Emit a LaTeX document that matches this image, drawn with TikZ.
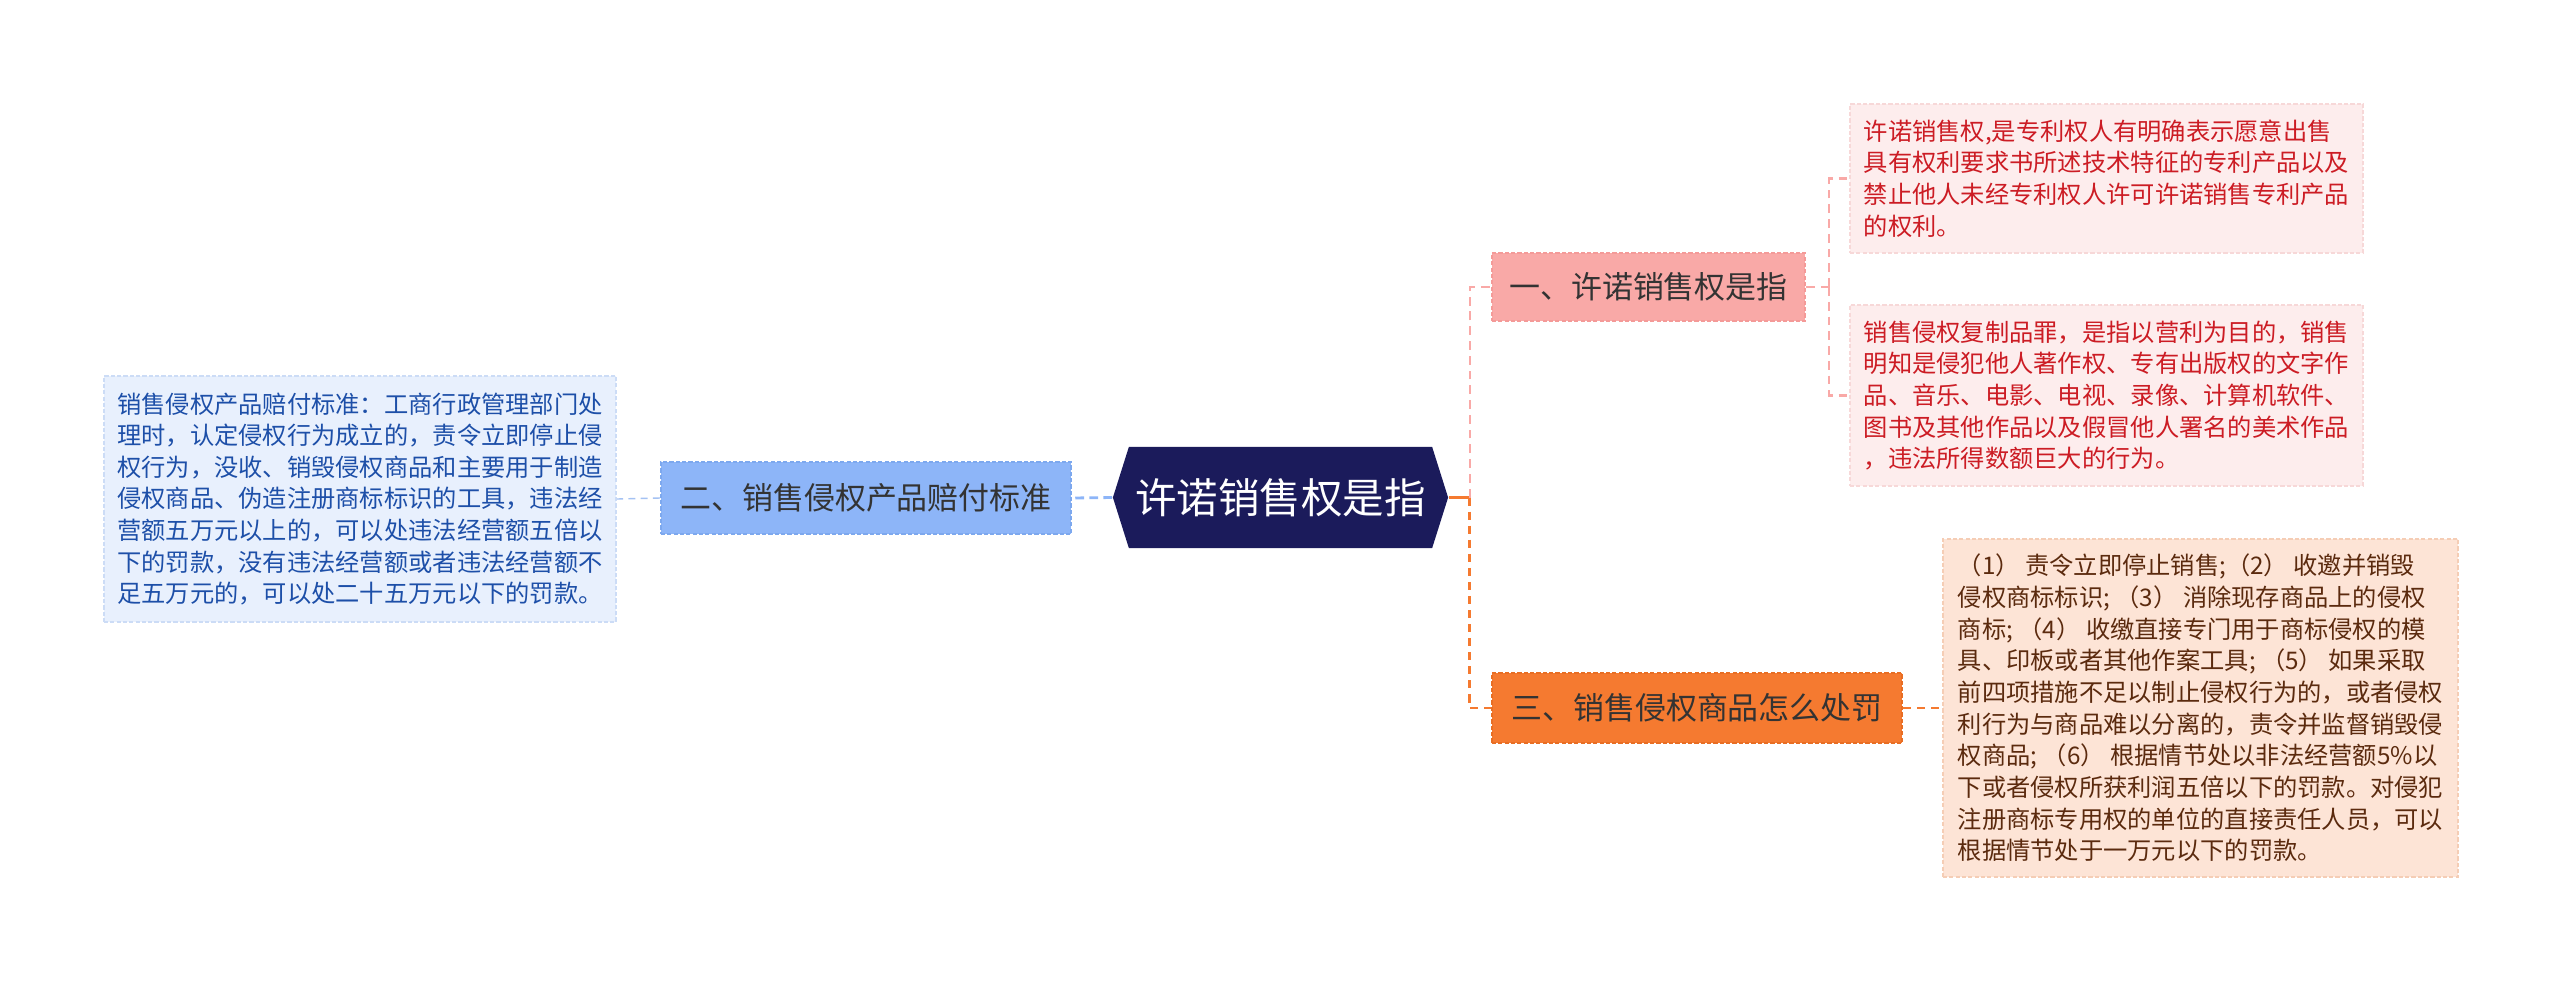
\documentclass[tikz,border=0pt]{standalone}
\usepackage{fontspec}
\setmainfont{Noto Sans CJK SC}
\usepackage{xcolor}
\usetikzlibrary{positioning, shapes.symbols}
\definecolor{rootNavy}{HTML}{1B1B5B}
\definecolor{topicInk}{HTML}{333333}
\definecolor{pinkFill}{HTML}{F9A9A7}\definecolor{pinkEdge}{HTML}{F49A98}
\definecolor{blueFill}{HTML}{8DB5F8}\definecolor{blueEdge}{HTML}{7DA8EE}
\definecolor{orangeFill}{HTML}{F57A30}\definecolor{orangeEdge}{HTML}{E86E24}
\definecolor{leafPink}{HTML}{FDEDED}\definecolor{leafPinkEdge}{HTML}{F7D8D8}\definecolor{leafRed}{HTML}{CC1C24}
\definecolor{leafPeach}{HTML}{FDE4D6}\definecolor{leafPeachEdge}{HTML}{F5CDB5}\definecolor{leafBrown}{HTML}{5B2A0E}
\definecolor{leafBlue}{HTML}{E8F0FD}\definecolor{leafBlueEdge}{HTML}{CCDCF6}\definecolor{leafBlueInk}{HTML}{1D4FA8}
\tikzset{
    rootBox/.style={signal, signal to=west and east, signal pointer angle=145, fill=rootNavy, text=white,
        font=\fontsize{11.8}{14}\selectfont, minimum width=3.35cm, minimum height=1.01cm, inner sep=0pt},
    topicBox/.style={rectangle, draw, line width=0.5pt, dash pattern=on 1.2pt off 0.6pt, text=topicInk,
        font=\fontsize{8.8}{10}\selectfont, inner sep=0pt},
    leafBox/.style={rectangle, draw, line width=0.4pt, dash pattern=on 1.2pt off 0.6pt, align=left,
        font=\fontsize{6.9}{9}\selectfont, inner sep=0pt},
    pinkLink/.style={draw=pinkFill, line width=0.6pt, dash pattern=on 2.5pt off 1.7pt},
    orangeLink/.style={draw=orangeFill, line width=0.8pt, dash pattern=on 2.3pt off 1.7pt}
}

\begin{document}
\begin{tikzpicture}[x=0.01cm, y=-0.01cm]
    \useasboundingbox (0,0) rectangle (2560,981);
    % centre and first level
    \node[rootBox] (root) at (1280.5,497.5) {许诺销售权是指};
    \node[topicBox, fill=pinkFill, draw=pinkEdge, minimum width=3.13cm, minimum height=0.68cm] (tOne) at (1648.5,287) {一、许诺销售权是指};
    \node[topicBox, fill=blueFill, draw=blueEdge, minimum width=4.10cm, minimum height=0.72cm] (tTwo) at (866,498) {二、销售侵权产品赔付标准};
    \node[topicBox, fill=orangeFill, draw=orangeEdge, minimum width=4.10cm, minimum height=0.70cm] (tThree) at (1697,708) {三、销售侵权商品怎么处罚};
    % leaves
    \node[leafBox, fill=leafPink, draw=leafPinkEdge, text=leafRed, minimum width=5.13cm, minimum height=1.49cm] (lA) at (2106.5,178.5)
        {许诺销售权,是专利权人有明确表示愿意出售\\具有权利要求书所述技术特征的专利产品以及\\禁止他人未经专利权人许可许诺销售专利产品\\的权利。};
    \node[leafBox, fill=leafPink, draw=leafPinkEdge, text=leafRed, minimum width=5.13cm, minimum height=1.81cm] (lB) at (2106.5,395.5)
        {销售侵权复制品罪，是指以营利为目的，销售\\明知是侵犯他人著作权、专有出版权的文字作\\品、音乐、电影、电视、录像、计算机软件、\\图书及其他作品以及假冒他人署名的美术作品\\，违法所得数额巨大的行为。};
    \node[leafBox, fill=leafPeach, draw=leafPeachEdge, text=leafBrown, minimum width=5.15cm, minimum height=3.38cm] (lC) at (2200.5,708)
        {（1） 责令立即停止销售;（2） 收邀并销毁\\侵权商标标识; （3） 消除现存商品上的侵权\\商标; （4） 收缴直接专门用于商标侵权的模\\具、印板或者其他作案工具; （5） 如果采取\\前四项措施不足以制止侵权行为的，或者侵权\\利行为与商品难以分离的，责令并监督销毁侵\\权商品; （6） 根据情节处以非法经营额5\%以\\下或者侵权所获利润五倍以下的罚款。对侵犯\\注册商标专用权的单位的直接责任人员，可以\\根据情节处于一万元以下的罚款。};
    \node[leafBox, fill=leafBlue, draw=leafBlueEdge, text=leafBlueInk, minimum width=5.12cm, minimum height=2.46cm] (lD) at (360,499)
        {销售侵权产品赔付标准：工商行政管理部门处\\理时，认定侵权行为成立的，责令立即停止侵\\权行为，没收、销毁侵权商品和主要用于制造\\侵权商品、伪造注册商标标识的工具，违法经\\营额五万元以上的，可以处违法经营额五倍以\\下的罚款，没有违法经营额或者违法经营额不\\足五万元的，可以处二十五万元以下的罚款。};
    % links
    \draw[draw=orangeFill, line width=0.8pt] (root.east) -- ++(21,0) coordinate (jRoot);
    \draw[pinkLink] (jRoot) |- (tOne.west);
    \draw[orangeLink] (jRoot) |- (tThree.west);
    \draw[pinkLink] (tOne.east) -- ++(23,0) coordinate (jOne);
    \draw[pinkLink] (jOne) |- (lA.west);
    \draw[pinkLink] (jOne) |- (lB.west);
    \draw[orangeLink, line width=0.6pt] (tThree.east) -- (lC.west);
    \draw[draw=blueFill, line width=0.8pt, dash pattern=on 2.5pt off 1.5pt] (root.west) -- (tTwo.east);
    \draw[draw=blueEdge!70, line width=0.4pt, dash pattern=on 2pt off 1.5pt] (tTwo.west) -- (lD.east);
\end{tikzpicture}
\end{document}
